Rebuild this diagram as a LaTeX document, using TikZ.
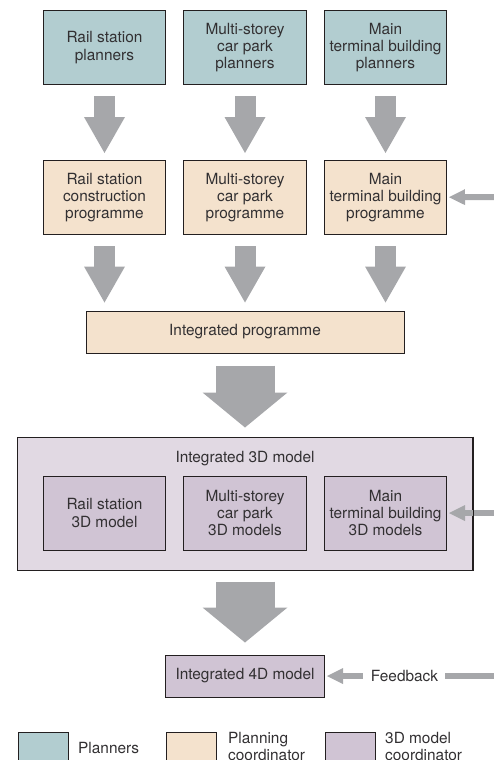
\documentclass[tikz,border=0pt]{standalone}
\usepackage{fontspec}
\setmainfont{TeX Gyre Heros}
\usetikzlibrary{arrows.meta,positioning}
\definecolor{planteal}{RGB}{178,205,208}
\definecolor{progbeige}{RGB}{244,226,205}
\definecolor{modelpurple}{RGB}{208,196,212}
\definecolor{outerpurple}{RGB}{225,217,227}
\definecolor{arrowgray}{RGB}{166,167,170}
\definecolor{edgegray}{RGB}{35,31,32}
\definecolor{textgray}{RGB}{50,48,50}
\begin{document}
\begin{tikzpicture}[x=1pt,y=-1pt,
    font=\fontsize{15.4}{17.3}\selectfont,
    block_plan/.style ={rectangle, draw=edgegray, line width=1pt, fill=planteal,
      text=textgray, align=center, minimum width=122pt, minimum height=74pt, inner sep=0pt},
    block_prog/.style ={block_plan, fill=progbeige},
    block_model/.style ={block_plan, fill=modelpurple},
    block_wide/.style ={block_prog, minimum width=318pt, minimum height=42pt},
    block_outer/.style ={rectangle, draw=edgegray, line width=1pt, fill=outerpurple,
      minimum width=455pt, minimum height=133pt, inner sep=0pt},
    block_noborder/.style ={rectangle, draw=none, text=textgray, inner sep=0pt},
    legend_box/.style ={rectangle, draw=edgegray, line width=1pt,
      minimum width=50pt, minimum height=50pt, inner sep=0pt},
    legend_text/.style ={block_noborder, anchor=west, align=left},
    fat_arrow/.style ={draw=arrowgray, line width=21pt,
      -{Triangle[width=41pt, length=36pt, line width=0pt]}},
    big_arrow/.style ={draw=arrowgray, line width=59pt,
      -{Triangle[width=85pt, length=35pt, line width=0pt]}},
    side_arrow/.style ={draw=arrowgray, line width=6pt,
      -{Triangle[width=16pt, length=16pt, line width=0pt]}},
    side_line/.style ={draw=arrowgray, line width=6pt}]
    \useasboundingbox (0,0) rectangle (494,760);
    % planners and their programmes
    \matrix [column sep=17.5pt, row sep=75pt] at (245,122.5) {
      \node [block_plan] (plan1) {Rail station\\planners};
      & \node [block_plan] (plan2) {Multi-storey\\car park\\planners};
      & \node [block_plan] (plan3) {Main\\terminal building\\planners}; \\
      \node [block_prog] (prog1) {Rail station\\construction\\programme};
      & \node [block_prog] (prog2) {Multi-storey\\car park\\programme};
      & \node [block_prog] (prog3) {Main\\terminal building\\programme}; \\
    };% end matrix
    \node [block_wide] (intprog) at (245,332) {Integrated programme};
    % 3D models
    \node [block_outer] (outer3d) at (245,503.5) {};
    \node [block_noborder] (label3d) at (245,459) {Integrated 3D model};
    \matrix [column sep=17.5pt] at (245,513) {
      \node [block_model] (model1) {Rail station\\3D model};
      & \node [block_model] (model2) {Multi-storey\\car park\\3D models};
      & \node [block_model] (model3) {Main\\terminal building\\3D models}; \\
    };% end matrix
    \node [block_model, minimum width=159pt, minimum height=42pt] (int4d) at (245,676) {Integrated 4D model};
    \node [block_noborder] (feedback) at (404.5,676) {Feedback};
    % legend
    \node [legend_box, fill=planteal] (legplan) at (43,757) {};
    \node [legend_text] (legplantext) at (78,748) {Planners};
    \node [legend_box, fill=progbeige] (legprog) at (191,757) {};
    \node [legend_text] (legprogtext) at (228,746.5) {Planning\\coordinator};
    \node [legend_box, fill=modelpurple] (legmodel) at (350,757) {};
    \node [legend_text] (legmodeltext) at (385,746.5) {3D model\\coordinator};
    % free ends on the right
    \coordinate (progin) at (494,197);
    \coordinate (modelin) at (494,513);
    \coordinate (feedin) at (494,676);
    % connecting nodes with arrows
    \foreach \c in {1,2,3} {
      \path [fat_arrow, shorten <=11pt, shorten >=7pt] (plan\c) -- (prog\c);
      \path [fat_arrow, shorten <=11pt, shorten >=8pt] (prog\c.south) -- (prog\c.south |- intprog.north);
    }
    \path [big_arrow, shorten <=12pt, shorten >=9pt] (intprog) -- (outer3d);
    \path [big_arrow, shorten <=11pt, shorten >=12pt] (outer3d) -- (int4d);
    \path [side_arrow, shorten >=2pt] (progin) -- (prog3);
    \path [side_arrow, shorten >=2pt] (modelin) -- (model3);
    \draw [edgegray, line width=1pt] (outer3d.north east) -- (outer3d.south east);
    \path [side_arrow, shorten <=8pt, shorten >=2pt] (feedback) -- (int4d);
    \path [side_line, shorten >=7pt] (feedin) -- (feedback);
\end{tikzpicture}
\end{document}
